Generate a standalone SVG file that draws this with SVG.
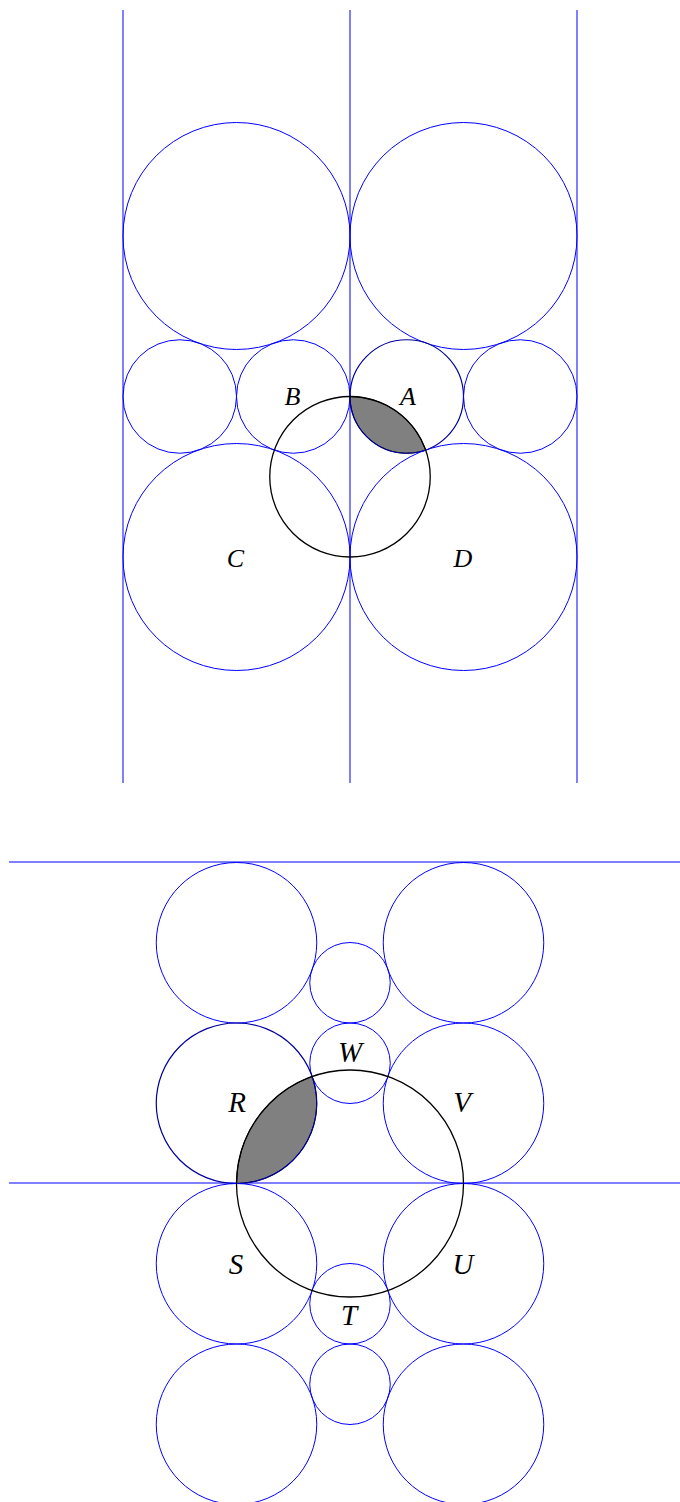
<svg xmlns="http://www.w3.org/2000/svg" width="680" height="1502" viewBox="0 0 680 1502">
<style>
.ln{stroke:#0000ff;stroke-width:1;fill:none}
.c{stroke:#0000ff;stroke-width:1;fill:none}
.cd{stroke:#00009a;stroke-width:1.2;fill:none}
.k{stroke:#000000;stroke-width:1.3;fill:none}
.sh{fill:#808080;stroke:#000000;stroke-width:1}
.lb{font-family:"Liberation Serif","DejaVu Serif",serif;font-style:italic;fill:#000000;text-anchor:middle}
.t1{font-size:26px}
.t2{font-size:29px}
</style>
<rect width="680" height="1502" fill="#ffffff"/>
<g id="top">
<g id="connectors-top">
<line class="ln" x1="123" y1="10" x2="123" y2="783"/>
<line class="ln" x1="350" y1="10" x2="350" y2="783"/>
<line class="ln" x1="577" y1="10" x2="577" y2="783"/>
</g>
<g id="big-tl"><circle class="c" cx="236.5" cy="236" r="113.5"/></g>
<g id="big-tr"><circle class="c" cx="463.5" cy="236" r="113.5"/></g>
<g id="small-1"><circle class="c" cx="179.75" cy="396.5" r="56.75"/></g>
<g id="node-B"><circle class="c" cx="293.25" cy="396.5" r="56.75"/><text class="lb t1" x="292.5" y="405">B</text></g>
<g id="node-A"><path class="sh" d="M350,396.5 A56.75,56.75 0 0 0 425.66,450 A80.25,80.25 0 0 0 350,396.5 Z"/><circle class="cd" cx="406.75" cy="396.5" r="56.75"/><text class="lb t1" x="408" y="405">A</text></g>
<g id="small-4"><circle class="c" cx="520.25" cy="396.5" r="56.75"/></g>
<g id="node-C"><circle class="c" cx="236.5" cy="557" r="113.5"/><text class="lb t1" x="235.5" y="567">C</text></g>
<g id="node-D"><circle class="c" cx="463.5" cy="557" r="113.5"/><text class="lb t1" x="463" y="567">D</text></g>
<g id="black-top"><circle class="k" cx="350" cy="476.75" r="80.25"/></g>
</g>
<g id="bottom">
<g id="connectors-bottom">
<line class="ln" x1="9" y1="862" x2="680" y2="862"/>
<line class="ln" x1="9" y1="1183" x2="680" y2="1183"/>
</g>
<g id="b-big-1"><circle class="c" cx="236.5" cy="942.75" r="80.25"/></g>
<g id="b-big-2"><circle class="c" cx="463.5" cy="942.75" r="80.25"/></g>
<g id="b-small-1"><circle class="c" cx="350" cy="982.75" r="40.25"/></g>
<g id="node-W"><circle class="c" cx="350" cy="1063.25" r="40.25"/><text class="lb t2" x="350" y="1062">W</text></g>
<g id="node-R"><path class="sh" d="M236.5,1183.5 A80.25,80.25 0 0 0 312.16,1076.5 A113.5,113.5 0 0 0 236.5,1183.5 Z"/><circle class="cd" cx="236.5" cy="1103.25" r="80.25"/><text class="lb t2" x="237" y="1112">R</text></g>
<g id="node-V"><circle class="c" cx="463.5" cy="1103.25" r="80.25"/><text class="lb t2" x="462" y="1112">V</text></g>
<g id="node-S"><circle class="c" cx="236.5" cy="1263.75" r="80.25"/><text class="lb t2" x="236" y="1274">S</text></g>
<g id="node-U"><circle class="c" cx="463.5" cy="1263.75" r="80.25"/><text class="lb t2" x="463" y="1274">U</text></g>
<g id="node-T"><circle class="c" cx="350" cy="1303.75" r="40.25"/><text class="lb t2" x="349" y="1325">T</text></g>
<g id="b-small-4"><circle class="c" cx="350" cy="1384.25" r="40.25"/></g>
<g id="b-big-7"><circle class="c" cx="236.5" cy="1424.25" r="80.25"/></g>
<g id="b-big-8"><circle class="c" cx="463.5" cy="1424.25" r="80.25"/></g>
<g id="black-bottom"><circle class="k" cx="350" cy="1183.5" r="113.5"/></g>
</g>
</svg>
